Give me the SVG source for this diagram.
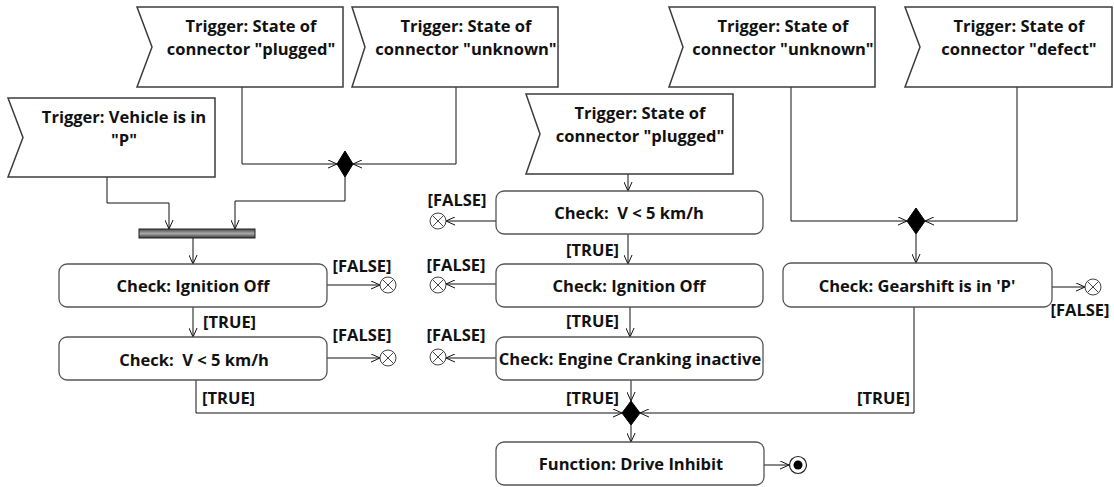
<svg xmlns="http://www.w3.org/2000/svg" width="1114" height="487" viewBox="0 0 1114 487">
<style>
.trig{fill:#fff;stroke:#3c3c3c;stroke-width:1.5}
.act{fill:#fff;stroke:#555;stroke-width:1.3}
.t{font-family:"Open Sans","Noto Sans","Liberation Sans",sans-serif;font-weight:bold;font-size:16.5px;fill:#111;text-anchor:middle}
.l{font-family:"Open Sans","Noto Sans","Liberation Sans",sans-serif;font-weight:bold;font-size:16.5px;fill:#111}
.c{fill:none;stroke:#111;stroke-width:1}
.ca{fill:none;stroke:#111;stroke-width:1;marker-end:url(#arr)}
.dia{fill:#000;stroke:#000;stroke-width:1}
.ff{fill:#fff;stroke:#444;stroke-width:1}
</style>
<defs>
<marker id="arr" viewBox="0 0 10 10" refX="10" refY="5" markerWidth="9" markerHeight="9" markerUnits="userSpaceOnUse" orient="auto">
<path d="M0,0.5 L10,5 L0,9.5" fill="none" stroke="#111" stroke-width="1.1"/>
</marker>
<linearGradient id="barg" x1="0" y1="0" x2="0" y2="1">
<stop offset="0" stop-color="#4a4a4a"/>
<stop offset="0.5" stop-color="#a8a8a8"/>
<stop offset="1" stop-color="#3a3a3a"/>
</linearGradient>
<g id="ffsym">
<circle cx="0" cy="0" r="8" class="ff"/>
<path d="M-5.6,-5.6 L5.6,5.6 M-5.6,5.6 L5.6,-5.6" stroke="#444" stroke-width="1"/>
</g>
</defs>

<g id="connectors">
<path class="ca" d="M107,177 V203 H169 V229"/>
<path class="ca" d="M242,87 V164 H337"/>
<path class="ca" d="M456,87 V164 H353"/>
<path class="ca" d="M345,177 V201 H235 V229"/>
<path class="ca" d="M193,238 V264"/>
<path class="ca" d="M327,285 H380"/>
<path class="ca" d="M193,307 V337"/>
<path class="ca" d="M327,358 H380"/>
<path class="ca" d="M196,380 V413 H622"/>
<path class="ca" d="M628,174 V191"/>
<path class="ca" d="M496,221 H446"/>
<path class="ca" d="M628,234 V264"/>
<path class="ca" d="M496,284 H446"/>
<path class="ca" d="M630,307 V337"/>
<path class="ca" d="M496,358 H446"/>
<path class="ca" d="M631,380 V401"/>
<path class="ca" d="M631,425 V442"/>
<path class="ca" d="M764,465 H789"/>
<path class="ca" d="M791,87 V221 H907"/>
<path class="ca" d="M1017,87 V221 H925"/>
<path class="ca" d="M916,234 V263"/>
<path class="ca" d="M1052,287 H1085"/>
<path class="ca" d="M914,307 V413 H640"/>
</g>

<g id="trigger-vehicle-p">
<path class="trig" d="M8,98 H215 V177 H8 L23,137.5 Z"/>
<text class="t" x="124" y="123">Trigger: Vehicle is in</text>
<text class="t" x="124" y="146">"P"</text>
</g>
<g id="trigger-plugged-1">
<path class="trig" d="M137,7 H343 V87 H137 L152,47 Z"/>
<text class="t" x="251" y="32">Trigger: State of</text>
<text class="t" x="251" y="55">connector "plugged"</text>
</g>
<g id="trigger-unknown-1">
<path class="trig" d="M352,7 H558 V87 H352 L365,47 Z"/>
<text class="t" x="466" y="32">Trigger: State of</text>
<text class="t" x="466" y="55">connector "unknown"</text>
</g>
<g id="trigger-plugged-2">
<path class="trig" d="M526,94 H733 V174 H526 L540,134 Z"/>
<text class="t" x="640" y="119">Trigger: State of</text>
<text class="t" x="640" y="142">connector "plugged"</text>
</g>
<g id="trigger-unknown-2">
<path class="trig" d="M669,7 H875 V87 H669 L683,47 Z"/>
<text class="t" x="783" y="32">Trigger: State of</text>
<text class="t" x="783" y="55">connector "unknown"</text>
</g>
<g id="trigger-defect">
<path class="trig" d="M905,7 H1112 V87 H905 L920,47 Z"/>
<text class="t" x="1019" y="32">Trigger: State of</text>
<text class="t" x="1019" y="55">connector "defect"</text>
</g>

<g id="merge-1"><path class="dia" d="M345,151 L353,164 L345,177 L337,164 Z"/></g>
<g id="merge-2"><path class="dia" d="M916,208 L925,221 L916,234 L907,221 Z"/></g>
<g id="merge-3"><path class="dia" d="M631,401 L640,413 L631,425 L622,413 Z"/></g>

<g id="join-bar"><rect x="139" y="229" width="116" height="9" fill="url(#barg)" stroke="#222" stroke-width="1"/></g>

<g id="check-ignition-left">
<rect class="act" x="59" y="264" width="268" height="43" rx="8"/>
<text class="t" x="193" y="292">Check: Ignition Off</text>
</g>
<g id="check-speed-left">
<rect class="act" x="59" y="337" width="268" height="43" rx="8"/>
<text class="t" x="194" y="366">Check:&#160; V &lt; 5 km/h</text>
</g>
<g id="check-speed-mid">
<rect class="act" x="496" y="191" width="267" height="43" rx="8"/>
<text class="t" x="629" y="219">Check:&#160; V &lt; 5 km/h</text>
</g>
<g id="check-ignition-mid">
<rect class="act" x="496" y="264" width="267" height="43" rx="8"/>
<text class="t" x="629" y="292">Check: Ignition Off</text>
</g>
<g id="check-cranking">
<rect class="act" x="496" y="337" width="267" height="43" rx="8"/>
<text class="t" x="630" y="365">Check: Engine Cranking inactive</text>
</g>
<g id="check-gearshift">
<rect class="act" x="783" y="263" width="269" height="44" rx="8"/>
<text class="t" x="917" y="292">Check: Gearshift is in 'P'</text>
</g>
<g id="function-drive-inhibit">
<rect class="act" x="496" y="442" width="268" height="43" rx="8"/>
<text class="t" x="631" y="470">Function: Drive Inhibit</text>
</g>

<g id="flow-final-1"><use href="#ffsym" x="388" y="285"/></g>
<g id="flow-final-2"><use href="#ffsym" x="388" y="358"/></g>
<g id="flow-final-3"><use href="#ffsym" x="438" y="221"/></g>
<g id="flow-final-4"><use href="#ffsym" x="438" y="285"/></g>
<g id="flow-final-5"><use href="#ffsym" x="438" y="357"/></g>
<g id="flow-final-6"><use href="#ffsym" x="1093" y="287"/></g>
<g id="activity-final">
<circle cx="798" cy="465" r="8.5" fill="#fff" stroke="#222" stroke-width="1.2"/>
<circle cx="798" cy="465" r="4.5" fill="#000"/>
</g>

<g id="labels">
<text class="t" x="362" y="272">[FALSE]</text>
<text class="t" x="362" y="341">[FALSE]</text>
<text class="t" x="457" y="206">[FALSE]</text>
<text class="t" x="456" y="271">[FALSE]</text>
<text class="t" x="456" y="341">[FALSE]</text>
<text class="t" x="1080" y="316">[FALSE]</text>
<text class="l" x="203" y="328">[TRUE]</text>
<text class="l" x="202" y="404">[TRUE]</text>
<text class="l" x="566" y="256">[TRUE]</text>
<text class="l" x="566" y="327">[TRUE]</text>
<text class="l" x="566" y="404">[TRUE]</text>
<text class="l" x="857" y="404">[TRUE]</text>
</g>
</svg>
